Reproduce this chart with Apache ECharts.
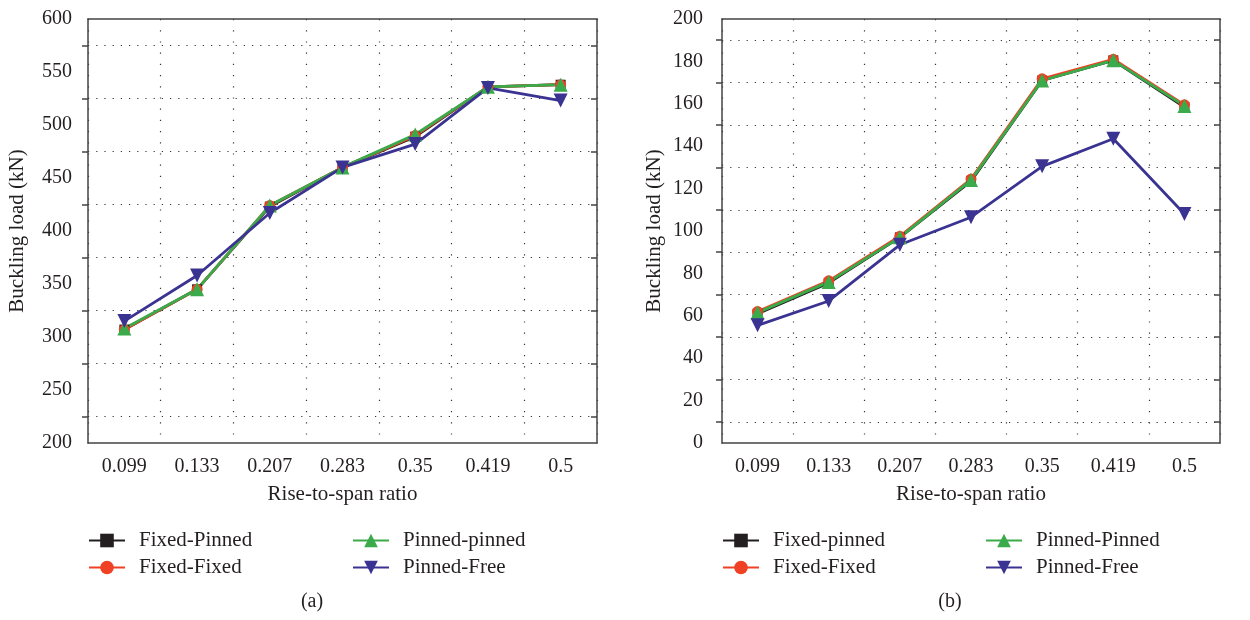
<!DOCTYPE html>
<html>
<head>
<meta charset="utf-8">
<title>Buckling load vs rise-to-span ratio</title>
<script src="https://cdn.jsdelivr.net/npm/echarts@6/dist/echarts.min.js"></script>
<style>
  html, body { margin: 0; padding: 0; background: #fff; }
  #chart { width: 1250px; height: 620px; }
</style>
</head>
<body>
<div id="chart"></div>
<script>
// categories (rise-to-span ratio)
var ratios = ['0.099', '0.133', '0.207', '0.283', '0.35', '0.419', '0.5'];

// (a) buckling load, kN
var fixedPinnedA = [307, 345, 423, 460, 489, 536, 538];
var fixedFixedA = [307, 345, 424, 460, 490, 536, 538];
var pinnedPinnedA = [308, 345, 424, 460, 491, 536, 538];
var pinnedFreeA = [315, 358, 417, 460, 482, 535, 523];

// (b) buckling load, kN
var fixedPinnedB = [61, 75.5, 97, 123.5, 171, 180.5, 158.5];
var fixedFixedB = [62, 76.5, 97.5, 124.5, 171.8, 181, 159.5];
var pinnedPinnedB = [61.5, 76, 97, 124, 171, 180.5, 159];
var pinnedFreeB = [55.5, 67, 93.5, 106.5, 130.5, 143.5, 108];

var FONT = 'Liberation Serif';
var TXT = '#231f20';
var AXC = '#444';
var colors = {
  black: '#231f20',
  red: '#ef4123',
  green: '#3aaa4a',
  blue: '#3a3391'
};

var dotted = { color: '#333', width: 1.2, type: [1.2, 7] };
var dottedV = { color: '#333', width: 1.2, type: [1.2, 10] };

// four x axes per panel: labels + center ticks, boundary ticks + grid, and the same on top
function xAxes(gi) {
  var line = { show: true, lineStyle: { color: AXC, width: 1.5 } };
  var tickStyle = { color: AXC, width: 1.5 };
  return [{
    gridIndex: gi, type: 'category', data: ratios, boundaryGap: true, position: 'bottom',
    axisLine: line,
    axisTick: { alignWithLabel: true, interval: 0, length: 6, lineStyle: tickStyle },
    axisLabel: { interval: 0, margin: 14, fontFamily: FONT, fontSize: 20, color: TXT },
    splitLine: { show: false },
    name: 'Rise-to-span ratio', nameLocation: 'middle', nameGap: 41,
    nameTextStyle: { fontFamily: FONT, fontSize: 21, color: TXT }
  }, {
    gridIndex: gi, type: 'category', data: ratios, boundaryGap: true, position: 'bottom',
    axisLine: { show: false },
    axisTick: { alignWithLabel: false, interval: 0, length: 6, lineStyle: tickStyle },
    axisLabel: { show: false },
    splitLine: { show: true, interval: 0, lineStyle: dottedV }
  }, {
    gridIndex: gi, type: 'category', data: ratios, boundaryGap: true, position: 'top',
    axisLine: line,
    axisTick: { alignWithLabel: true, interval: 0, inside: true, length: 6, lineStyle: tickStyle },
    axisLabel: { show: false },
    splitLine: { show: false }
  }, {
    gridIndex: gi, type: 'category', data: ratios, boundaryGap: true, position: 'top',
    axisLine: { show: false },
    axisTick: { alignWithLabel: false, interval: 0, inside: true, length: 6, lineStyle: tickStyle },
    axisLabel: { show: false },
    splitLine: { show: false }
  }];
}

function yAxes(gi, min, max, step, labelMargin, nameGap) {
  var tickStyle = { color: AXC, width: 1.5 };
  return [{
    gridIndex: gi, type: 'value', min: min, max: max, interval: step, position: 'left',
    axisLine: { show: true, lineStyle: { color: AXC, width: 1.5 } },
    axisTick: { length: 6, lineStyle: tickStyle },
    minorTick: { show: true, splitNumber: 2, length: 6, lineStyle: tickStyle },
    minorSplitLine: { show: true, lineStyle: dotted },
    splitLine: { show: false },
    axisLabel: { margin: labelMargin, fontFamily: FONT, fontSize: 20, color: TXT },
    name: 'Buckling load (kN)', nameLocation: 'middle', nameGap: nameGap, nameRotate: 90,
    nameTextStyle: { fontFamily: FONT, fontSize: 21, color: TXT }
  }, {
    gridIndex: gi, type: 'value', min: min, max: max, interval: step, position: 'right',
    axisLine: { show: true, lineStyle: { color: AXC, width: 1.5 } },
    axisTick: { inside: true, length: 6, lineStyle: tickStyle },
    minorTick: { show: true, splitNumber: 2, length: 6, lineStyle: tickStyle },
    splitLine: { show: false },
    axisLabel: { show: false }
  }];
}

function lineSeries(name, data, xi, yi, color, symbol, size, rotate) {
  return {
    name: name, type: 'line', data: data,
    xAxisIndex: xi, yAxisIndex: yi,
    symbol: symbol, symbolSize: size, symbolRotate: rotate || 0,
    showAllSymbol: true,
    lineStyle: { color: color, width: 2.8 },
    itemStyle: { color: color },
    emphasis: { disabled: true },
    animation: false
  };
}

function legendItem(name, left, top) {
  return {
    data: [name], left: left, top: top, padding: 0,
    itemWidth: 36, itemHeight: 17,
    selectedMode: false,
    textStyle: { fontFamily: FONT, fontSize: 21, color: TXT, padding: [0, 0, 0, 9] }
  };
}

var chart = echarts.init(document.getElementById('chart'));

var option = {
  backgroundColor: '#fff',
  animation: false,
  title: [
    { text: '(a)', left: 307, top: 587, textAlign: 'center', textStyle: { fontFamily: FONT, fontSize: 20, fontWeight: 'normal', color: TXT } },
    { text: '(b)', left: 945, top: 587, textAlign: 'center', textStyle: { fontFamily: FONT, fontSize: 20, fontWeight: 'normal', color: TXT } }
  ],
  grid: [
    { left: 88, top: 19, width: 509, height: 424 },
    { left: 722, top: 19, width: 498, height: 424 }
  ],
  xAxis: xAxes(0).concat(xAxes(1)),
  yAxis: yAxes(0, 200, 600, 50, 16, 60).concat(yAxes(1, 0, 200, 20, 19, 57)),
  legend: [
    legendItem('Fixed-Pinned', 88, 530),
    legendItem('Fixed-Fixed', 88, 557),
    legendItem('Pinned-pinned', 352, 530),
    legendItem('Pinned-Free', 352, 557),
    legendItem('Fixed-pinned', 722, 530),
    legendItem('Fixed-Fixed', 722, 557),
    legendItem('Pinned-Pinned', 985, 530),
    legendItem('Pinned-Free', 985, 557)
  ],
  series: [
    lineSeries('Fixed-Pinned', fixedPinnedA, 0, 0, colors.black, 'rect', 10),
    lineSeries('Fixed-Fixed', fixedFixedA, 0, 0, colors.red, 'circle', 11),
    lineSeries('Pinned-pinned', pinnedPinnedA, 0, 0, colors.green, 'triangle', 14),
    lineSeries('Pinned-Free', pinnedFreeA, 0, 0, colors.blue, 'triangle', 14, 180),
    lineSeries('Fixed-pinned', fixedPinnedB, 4, 2, colors.black, 'rect', 10),
    lineSeries('Fixed-Fixed', fixedFixedB, 4, 2, colors.red, 'circle', 11),
    lineSeries('Pinned-Pinned', pinnedPinnedB, 4, 2, colors.green, 'triangle', 14),
    lineSeries('Pinned-Free', pinnedFreeB, 4, 2, colors.blue, 'triangle', 14, 180)
  ]
};

chart.setOption(option);
</script>
</body>
</html>
